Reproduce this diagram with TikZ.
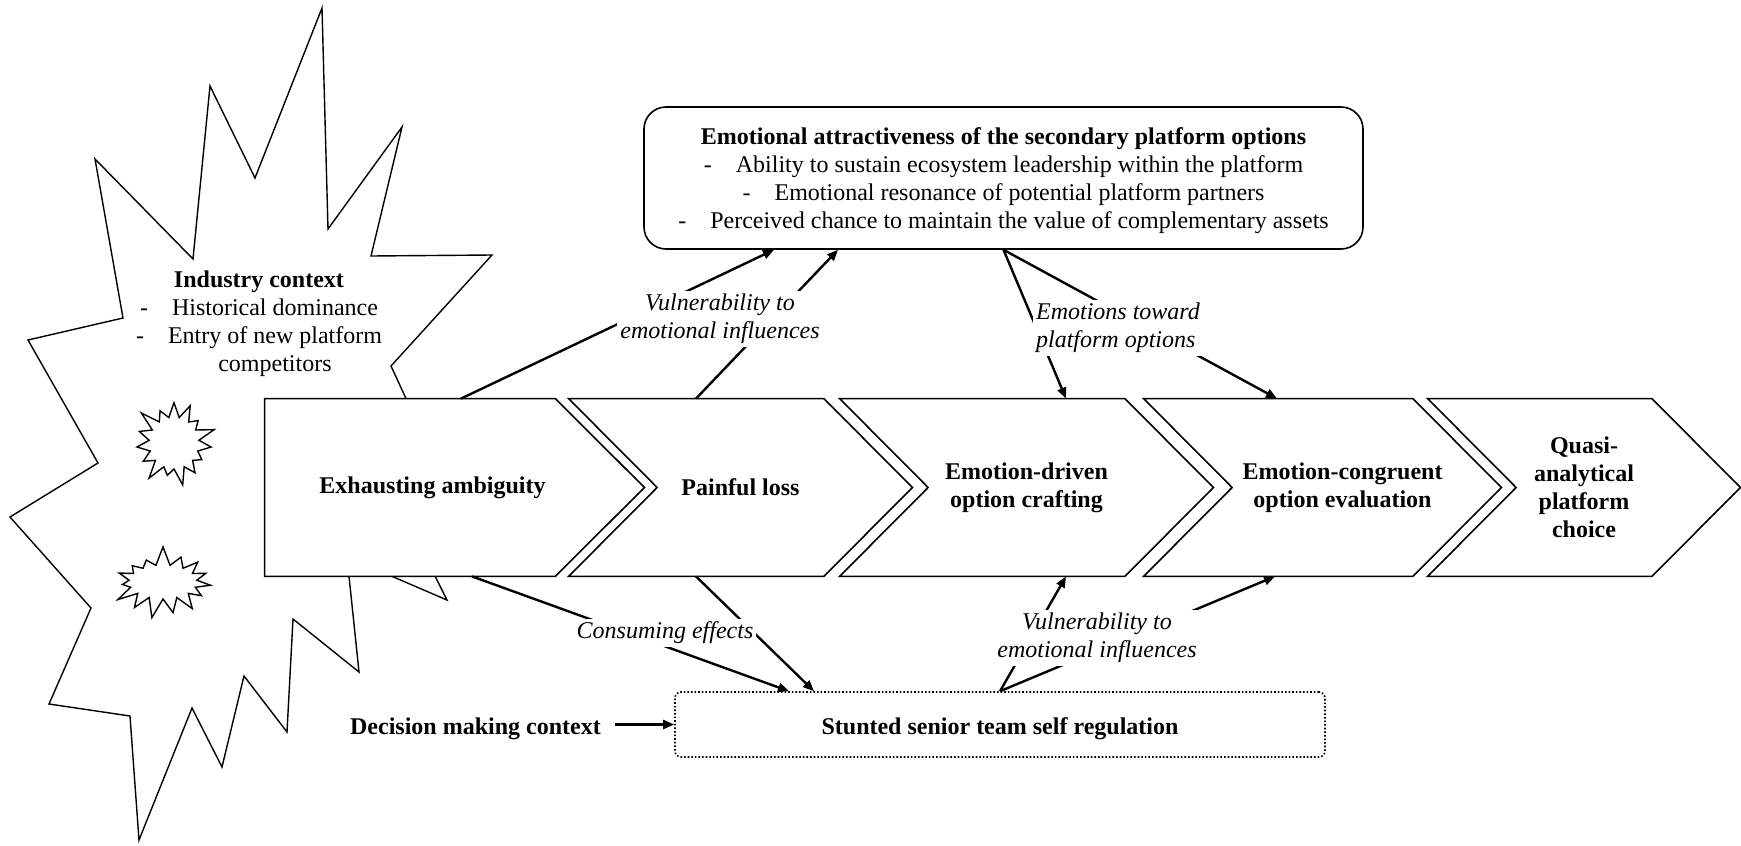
\documentclass[tikz,border=0pt]{standalone}
\usepackage{fontspec}
\setmainfont{Liberation Serif}
\usetikzlibrary{arrows.meta, positioning, calc, shapes.symbols}
\pgfdeclarelayer{background}
\pgfsetlayers{background,main}

\begin{document}
\begin{tikzpicture}[
  x=0.5pt, y=-0.5pt,
  every node/.style={font=\fontsize{12}{14}\selectfont},
  stepbox/.style={
    minimum height=88.5pt, inner sep=0pt, align=center,
    font=\fontsize{12}{14}\selectfont\bfseries
  },
  stepline/.style={draw, fill=white, line width=0.8pt, line join=miter},
  optbox/.style={
    draw, rounded corners=11pt, line width=0.8pt, align=center,
    minimum width=359.5pt, minimum height=71pt, inner sep=4pt
  },
  selfbox/.style={
    draw, densely dotted, rounded corners=3pt, line width=0.8pt,
    minimum width=325pt, minimum height=32.5pt, text height=12.5pt,
    font=\fontsize{12}{14}\selectfont\bfseries
  },
  ctx/.style={font=\fontsize{12}{14}\selectfont\bfseries, inner xsep=7pt, text height=12.5pt},
  note/.style={font=\fontsize{12}{14}\selectfont\itshape, fill=white, inner sep=1.5pt, align=center},
  burst/.style={draw, line width=0.7pt, line join=miter},
  spark/.style={draw, line width=0.7pt, starburst, starburst points=15, starburst point height=10pt},
  link/.style={-{Triangle[length=5.5pt, width=4.5pt]}, line width=1.2pt}
]
  \useasboundingbox (0,0) rectangle (1741,846);

  % industry context
  \node[align=center] (industry) at (259,325.5) {\textbf{Industry context}\\
    -\quad Historical dominance\\
    -\quad\begin{tabular}[t]{@{}c@{}}Entry of new platform\\competitors\end{tabular}};
  \node[spark, minimum width=45pt, minimum height=46pt] (spark1) at (174,443) {};
  \node[spark, minimum width=54pt, minimum height=37pt, random starburst=7] (spark2) at (163,582) {};

  % process steps
  \node[stepbox, minimum width=189.5pt] (ambig) at (454.5,487.5) {\kern-22pt Exhausting ambiguity};
  \node[stepbox, minimum width=171.5pt] (loss) at (740.5,487.5) {Painful loss};
  \node[stepbox, minimum width=186.5pt] (crafting) at (1026.5,487.5) {Emotion-driven\\option crafting};
  \node[stepbox, minimum width=178.5pt] (evaluation) at (1322.5,487.5) {\kern20pt Emotion-congruent\\\kern20pt option evaluation};
  \node[stepbox, minimum width=156pt] (choice) at (1584,487.5) {Quasi-\\analytical\\platform\\choice};

  % options and self regulation
  \node[optbox] (options) at (1003.5,178) {\textbf{\rule{0pt}{11.3pt}Emotional attractiveness of the secondary platform options}\\
    -\quad Ability to sustain ecosystem leadership within the platform\\
    -\quad Emotional resonance of potential platform partners\\
    -\quad Perceived chance to maintain the value of complementary assets};
  \node[selfbox] (selfreg) at (1000,724.5) {Stunted senior team self regulation};
  \node[ctx, left=29.5pt of selfreg] (decision) {Decision making context};

  \begin{pgfonlayer}{background}
    % outer starburst
    \draw[burst] (322,8) -- (328,229) -- (402,127) -- (371,256) -- (492,255) -- (391,366)
      -- (432,455) -- (411,528) -- (447,600) -- (347,557) -- (359,672) -- (293,619)
      -- (287,732) -- (244,676) -- (222,767) -- (192,708) -- (139,840) -- (130,716)
      -- (49,704) -- (91,608) -- (10,517) -- (98,463) -- (28,340) -- (123,318)
      -- (95,159) -- (193,259) -- (210,86) -- (255,178) -- cycle;
    % chevrons
    \draw[stepline] (ambig.north west) -- ($(ambig.north east)+(-89,0)$) -- (ambig.east)
      -- ($(ambig.south east)+(-89,0)$) -- (ambig.south west) -- cycle;
    \foreach \s in {loss, crafting, evaluation, choice}
      \draw[stepline] (\s.north west) -- ($(\s.north east)+(-88.5,0)$) -- (\s.east)
        -- ($(\s.south east)+(-88.5,0)$) -- (\s.south west) -- ($(\s.west)+(88.5,0)$) -- cycle;
  \end{pgfonlayer}

  % upper influences
  \draw[link] ($(ambig.north)+(6.5,0)$) -- ($(options.south)+(-229.5,0)$);
  \draw[link] ($(loss.north)+(-44.5,0)$) -- ($(options.south)+(-165.5,0)$);
  \draw[link] (options.south) -- ($(crafting.north)+(39.5,0)$);
  \draw[link] (options.south) -- ($(evaluation.north)+(-45.5,0)$);

  % lower influences
  \draw[link] ($(ambig.south)+(17.5,0)$) -- ($(selfreg.north)+(-211,0)$);
  \draw[link] ($(loss.south)+(-44.5,0)$) -- ($(selfreg.north)+(-186,0)$);
  \draw[link] (selfreg.north) -- ($(crafting.south)+(39.5,0)$);
  \draw[link] (selfreg.north) -- ($(evaluation.south)+(-47.5,0)$);
  \draw[link] (decision) -- (selfreg);

  % labels on the links
  \node[note] (vulnup) at (720,319) {Vulnerability to\\emotional influences};
  \node[note, align=left] (emotions) at (1118,328) {Emotions toward\\platform options};
  \node[note] (consuming) at (665,633) {Consuming effects};
  \node[note] (vulndown) at (1097,638) {Vulnerability to\\emotional influences};

\end{tikzpicture}
\end{document}
